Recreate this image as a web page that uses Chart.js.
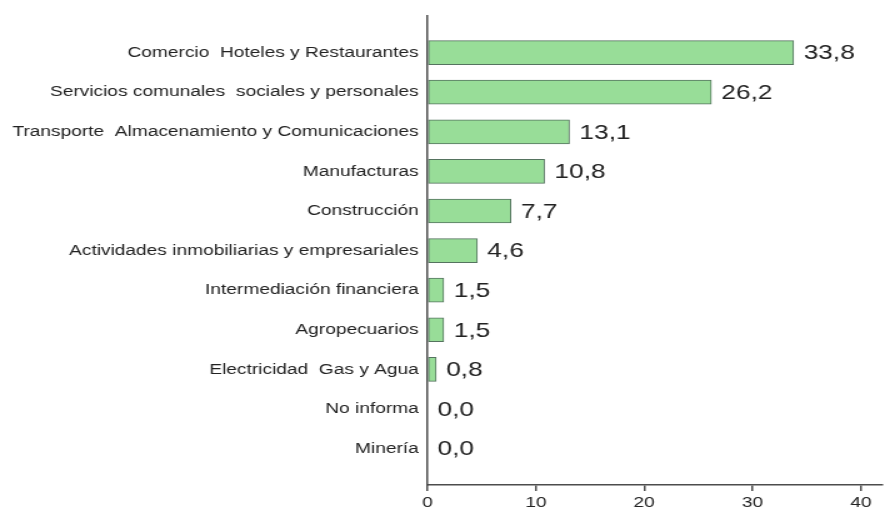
<!DOCTYPE html>
<html>
<head>
<meta charset="utf-8">
<script src="https://cdn.jsdelivr.net/npm/chart.js@4.4.1/dist/chart.umd.min.js"></script>
<style>
  html, body { margin: 0; padding: 0; background: #ffffff; overflow: hidden; }
  /* chart is drawn at 716px and widened to the 895px page */
  #wrap { width: 716px; height: 517px; transform: scaleX(1.25); transform-origin: 0 0; }
</style>
</head>
<body>
<div id="wrap"><canvas id="c" width="716" height="517"></canvas></div>
<script>
// Ocupados por rama de actividad (%)
const sectors = [
  'Comercio  Hoteles y Restaurantes',
  'Servicios comunales  sociales y personales',
  'Transporte  Almacenamiento y Comunicaciones',
  'Manufacturas',
  'Construcción',
  'Actividades inmobiliarias y empresariales',
  'Intermediación financiera',
  'Agropecuarios',
  'Electricidad  Gas y Agua',
  'No informa',
  'Minería'
];
const shares = [33.8, 26.2, 13.1, 10.8, 7.7, 4.6, 1.5, 1.5, 0.8, 0.0, 0.0];
const xTicks = [0, 10, 20, 30, 40];

const AXIS = '#4d4d4d';
const TEXT = '#222222';
const FONT = '"Liberation Sans", Arial, sans-serif';

const fmt = v => v.toFixed(1).replace('.', ',');

const valueLabels = {
  id: 'valueLabels',
  afterDatasetsDraw(chart) {
    const ctx = chart.ctx;
    const meta = chart.getDatasetMeta(0);
    ctx.save();
    ctx.font = '21px ' + FONT;
    ctx.fillStyle = TEXT;
    ctx.textAlign = 'left';
    ctx.textBaseline = 'middle';
    meta.data.forEach((bar, i) => {
      ctx.fillText(fmt(shares[i]), bar.x + 8, bar.y + 1);
    });
    ctx.restore();
  }
};

new Chart(document.getElementById('c'), {
  type: 'bar',
  data: {
    datasets: [{
      data: sectors.map((s, i) => ({ x: shares[i], y: i })),
      backgroundColor: '#98dd98',
      borderColor: '#55735f',
      borderWidth: 1,
      borderSkipped: false,
      barThickness: 24
    }]
  },
  options: {
    indexAxis: 'y',
    responsive: false,
    animation: false,
    layout: { padding: { top: 8, right: 10, left: 0, bottom: 0 } },
    plugins: {
      legend: { display: false },
      tooltip: { enabled: false }
    },
    scales: {
      x: {
        type: 'linear',
        min: 0,
        max: 42,
        afterBuildTicks: s => { s.ticks = xTicks.map(v => ({ value: v })); },
        afterFit: s => { s.height = 32; },
        border: { display: true, color: AXIS, width: 1.5 },
        grid: { drawOnChartArea: false, drawTicks: true, tickLength: 6, color: AXIS, lineWidth: 1.5 },
        ticks: {
          color: TEXT,
          padding: 3,
          font: { family: FONT, size: 15.3 }
        }
      },
      y: {
        type: 'linear',
        reverse: true,
        offset: false,
        min: -0.92,
        max: 10.92,
        afterBuildTicks: s => { s.ticks = sectors.map((_, i) => ({ value: i })); },
        afterFit: s => { s.width = 342; },
        border: { display: true, color: AXIS, width: 1.5 },
        grid: { offset: false, drawOnChartArea: false, drawTicks: false },
        ticks: {
          color: TEXT,
          padding: 7,
          autoSkip: false,
          callback: v => sectors[v],
          font: { family: FONT, size: 15.3 }
        }
      }
    }
  },
  plugins: [valueLabels]
});
</script>
</body>
</html>
